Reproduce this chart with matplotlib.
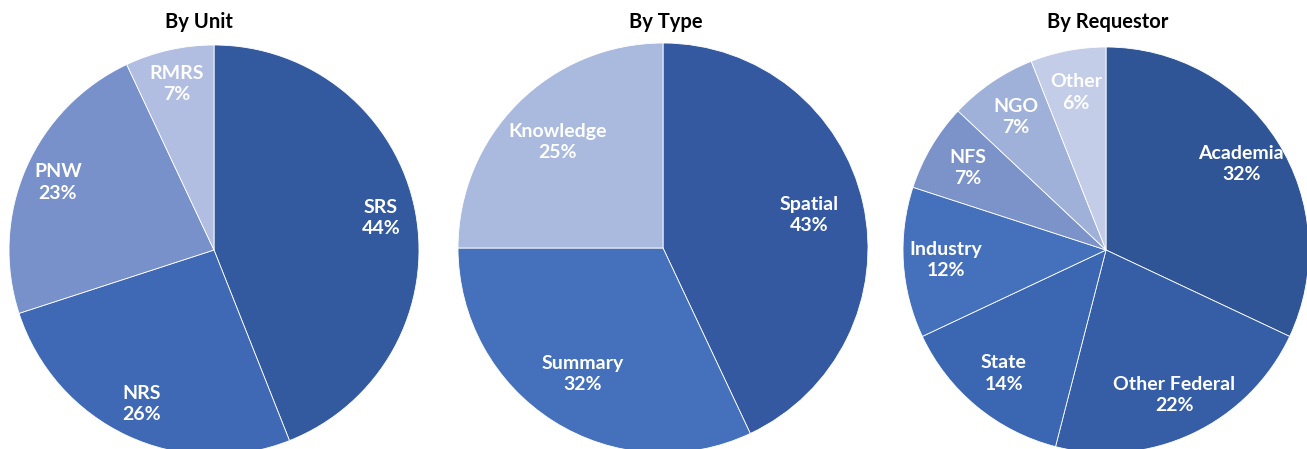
import matplotlib
matplotlib.use('Agg')
import matplotlib.pyplot as plt

plt.rcParams['font.family'] = ['Lato', 'DejaVu Sans']

unit_names = ['SRS', 'NRS', 'PNW', 'RMRS']
unit_vals = [44, 26, 23, 7]
unit_colors = ['#335a9e', '#3f69b4', '#7891ca', '#b1bee1']

type_names = ['Spatial', 'Summary', 'Knowledge']
type_vals = [43, 32, 25]
type_colors = ['#3459a1', '#4570bb', '#aab9de']

req_names = ['Academia', 'Other Federal', 'State', 'Industry', 'NFS', 'NGO', 'Other']
req_vals = [32, 22, 14, 12, 7, 7, 6]
req_colors = ['#2f5597', '#355ea6', '#3a66b2', '#4571bc', '#7b93c9', '#a0b1d9', '#c4cde8']

W, H = 1307, 449
fig = plt.figure(figsize=(W / 100, H / 100), dpi=100)

panels = [
    ('By Unit', unit_names, unit_vals, unit_colors, 214, 250, 205, 0.83, 199),
    ('By Type', type_names, type_vals, type_colors, 663, 248, 205, 0.73, 666),
    ('By Requestor', req_names, req_vals, req_colors, 1106, 250, 203, 0.79, 1108),
]

for title, names, vals, colors, cx, cy, r, ld, tx in panels:
    ax = fig.add_axes([(cx - r) / W, (H - cy - r) / H, 2 * r / W, 2 * r / H])
    labels = [f'{n}\n{v}%' for n, v in zip(names, vals)]
    wedges, texts = ax.pie(vals, labels=labels, colors=colors, startangle=90,
                           counterclock=False, labeldistance=ld,
                           wedgeprops=dict(edgecolor='white', linewidth=0.6),
                           textprops=dict(color='white', fontsize=14,
                                          fontweight='bold', linespacing=1.3))
    for t in texts:
        t.set_horizontalalignment('center')
        t.set_verticalalignment('center')
    ax.set_xlim(-1, 1)
    ax.set_ylim(-1, 1)
    ax.set_aspect('equal')
    for w in wedges:
        w.set_clip_on(False)
    fig.text(tx / W, 1 - 22 / H, title, ha='center', va='center',
             fontsize=14.5, fontweight='bold', color='black')

plt.savefig('out.png', dpi=100)
